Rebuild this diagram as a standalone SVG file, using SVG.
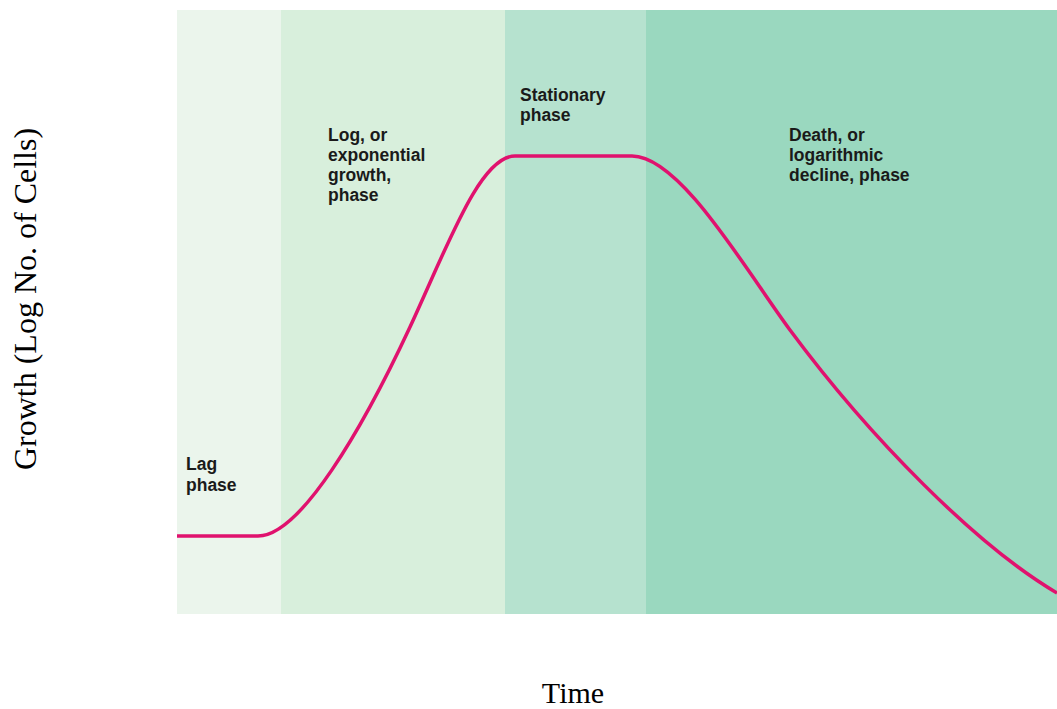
<svg xmlns="http://www.w3.org/2000/svg" width="1057" height="709" viewBox="0 0 1057 709">
<style>
.lbl{font-family:"Liberation Sans",Arial,sans-serif;font-weight:bold;font-size:17.5px;fill:#1a1a1a}
.ax{font-family:"Liberation Serif","Times New Roman",serif;fill:#000}
</style>
<rect width="1057" height="709" fill="#fff"/>
<g id="bands">
<rect id="lag" x="177" y="10" width="104" height="604" fill="#ebf5ec"/>
<rect id="log" x="281" y="10" width="224" height="604" fill="#d8efdc"/>
<rect id="stationary" x="505" y="10" width="141" height="604" fill="#b6e2cf"/>
<rect id="death" x="646" y="10" width="411" height="604" fill="#9ad8bf"/>
</g>
<g id="curve">
<path d="M177,536 H258 C300,536 362,430 410,327 C448,245 480,156 515,156 H632 C680,156 745,269 790,330 C870,438 977,546 1057,593" fill="none" stroke="#e0126e" stroke-width="3.5"/>
</g>
<g id="labels">
<text class="lbl" x="186" y="470">Lag</text>
<text class="lbl" x="186" y="491">phase</text>
<text class="lbl" x="328" y="141">Log, or</text>
<text class="lbl" x="328" y="161">exponential</text>
<text class="lbl" x="328" y="181">growth,</text>
<text class="lbl" x="328" y="201">phase</text>
<text class="lbl" x="520" y="101">Stationary</text>
<text class="lbl" x="520" y="121">phase</text>
<text class="lbl" x="789" y="141">Death, or</text>
<text class="lbl" x="789" y="161">logarithmic</text>
<text class="lbl" x="789" y="181">decline, phase</text>
</g>
<text class="ax" x="573" y="703" font-size="30" text-anchor="middle">Time</text>
<text class="ax" font-size="32" transform="translate(36,299) rotate(-90)" text-anchor="middle">Growth (Log No. of Cells)</text>
</svg>
